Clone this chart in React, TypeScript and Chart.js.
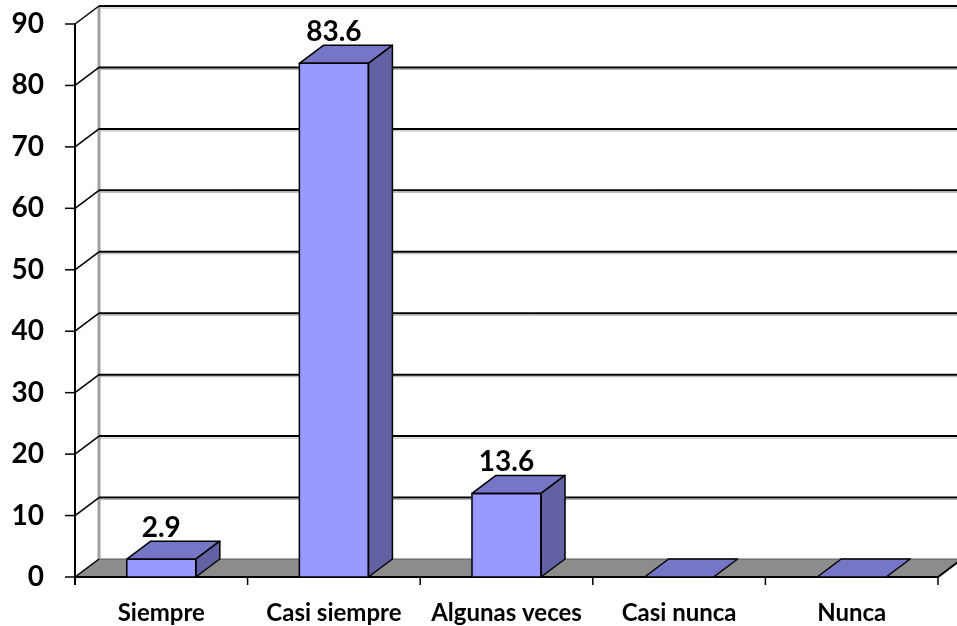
import React, { useEffect, useRef } from "react";
import { Chart, registerables } from "chart.js";

Chart.register(...registerables);

const categories = ["Siempre", "Casi siempre", "Algunas veces", "Casi nunca", "Nunca"];
const values = [2.9, 83.6, 13.6, 0, 0];
const yMin = 0;
const yMax = 90;
const yStep = 10;

const FONT = "Lato, 'Open Sans', sans-serif";
const DX = 24;
const DY = 18;
const COLORS = {
  front: "#9999FF",
  top: "#7676C6",
  side: "#6161A3",
  floor: "#8C8C8C",
  wall: "#A0A0A0",
};

const threeD = {
  id: "threeD",
  beforeDatasetsDraw(chart: any) {
    const { ctx, chartArea, scales } = chart;
    const { left, right } = chartArea;
    const x = scales.x;
    const y = scales.y;
    const y0 = y.getPixelForValue(yMin);
    const yTop = y.getPixelForValue(yMax);
    ctx.save();
    // floor
    ctx.beginPath();
    ctx.moveTo(left, y0);
    ctx.lineTo(right, y0);
    ctx.lineTo(right + DX, y0 - DY);
    ctx.lineTo(left + DX, y0 - DY);
    ctx.closePath();
    ctx.fillStyle = COLORS.floor;
    ctx.fill();
    ctx.strokeStyle = "#5a5a5a";
    ctx.lineWidth = 1;
    ctx.beginPath();
    ctx.moveTo(left + DX, y0 - DY);
    ctx.lineTo(right + DX, y0 - DY);
    ctx.stroke();

    // back wall left edge
    ctx.strokeStyle = COLORS.wall;
    ctx.lineWidth = 3;
    ctx.beginPath();
    ctx.moveTo(left + DX, yTop - DY);
    ctx.lineTo(left + DX, y0 - DY);
    ctx.stroke();

    // gridlines
    for (const t of y.ticks) {
      const v = t.value;
      const py = y.getPixelForValue(v);
      if (v > yMin) {
        ctx.strokeStyle = "#B0B0B0";
        ctx.lineWidth = 1;
        ctx.beginPath();
        ctx.moveTo(left + DX, py - DY + 2);
        ctx.lineTo(right + DX + 10, py - DY + 2);
        ctx.stroke();
        ctx.strokeStyle = "#000";
        ctx.lineWidth = 2;
        ctx.beginPath();
        ctx.moveTo(left + DX, py - DY);
        ctx.lineTo(right + DX + 10, py - DY);
        ctx.stroke();
      }
      // side diagonal
      ctx.strokeStyle = "#000";
      ctx.lineWidth = 1.5;
      ctx.beginPath();
      ctx.moveTo(left, py);
      ctx.lineTo(left + DX, py - DY);
      ctx.stroke();
      // tick mark
      ctx.beginPath();
      ctx.moveTo(left - 10, py);
      ctx.lineTo(left, py);
      ctx.stroke();
    }

    // front y axis
    ctx.strokeStyle = "#000";
    ctx.lineWidth = 2;
    ctx.beginPath();
    ctx.moveTo(left, yTop);
    ctx.lineTo(left, y0 + 8);
    ctx.stroke();

    // floor front edge and right end
    ctx.beginPath();
    ctx.moveTo(left, y0);
    ctx.lineTo(right, y0);
    ctx.lineTo(right + DX, y0 - DY);
    ctx.stroke();

    // category tick marks
    ctx.lineWidth = 1.5;
    for (let i = 0; i <= categories.length; i++) {
      const px = x.getPixelForValue(i - 0.5);
      ctx.beginPath();
      ctx.moveTo(px, y0);
      ctx.lineTo(px, y0 + 8);
      ctx.stroke();
    }
    ctx.restore();
  },
  afterDatasetsDraw(chart: any) {
    const { ctx } = chart;
    const meta = chart.getDatasetMeta(0);
    ctx.save();
    ctx.lineWidth = 1.5;
    ctx.strokeStyle = "#000";
    ctx.lineJoin = "round";
    meta.data.forEach((bar: any, i: number) => {
      const { x, y, base, width } = bar.getProps(["x", "y", "base", "width"], true);
      const l = x - width / 2;
      const r = x + width / 2;
      // top face
      ctx.beginPath();
      ctx.moveTo(l, y);
      ctx.lineTo(r, y);
      ctx.lineTo(r + DX, y - DY);
      ctx.lineTo(l + DX, y - DY);
      ctx.closePath();
      ctx.fillStyle = COLORS.top;
      ctx.fill();
      ctx.stroke();
      // side face
      if (base - y > 0.5) {
        ctx.beginPath();
        ctx.moveTo(r, y);
        ctx.lineTo(r + DX, y - DY);
        ctx.lineTo(r + DX, base - DY);
        ctx.lineTo(r, base);
        ctx.closePath();
        ctx.fillStyle = COLORS.side;
        ctx.fill();
        ctx.stroke();
        // front face outline
        ctx.strokeRect(l, y, width, base - y);
      }
      const v = values[i];
      if (v > 0) {
        ctx.fillStyle = "#000";
        ctx.font = `bold 28px ${FONT}`;
        ctx.textAlign = "center";
        ctx.textBaseline = "alphabetic";
        ctx.fillText(String(v), x, y - DY - 4);
      }
    });
    ctx.restore();
  },
};

export default function App() {
  const ref = useRef<HTMLCanvasElement | null>(null);
  useEffect(() => {
    if (!ref.current) return;
    const chart = new Chart(ref.current, {
      type: "bar",
      data: {
        labels: categories,
        datasets: [
          {
            data: values,
            backgroundColor: COLORS.front,
            borderColor: "#000",
            borderWidth: 0,
            barPercentage: 0.4,
            categoryPercentage: 1,
            clip: false,
          } as any,
        ],
      },
      options: {
        animation: false,
        responsive: false,
        layout: { padding: { top: 24, right: 19, left: 0, bottom: 0 } },
        plugins: { legend: { display: false }, tooltip: { enabled: false } },
        scales: {
          x: {
            type: "category",
            grid: { display: false, drawTicks: false },
            border: { display: false },
            ticks: {
              color: "#000",
              font: { family: FONT, size: 24, weight: "bold" },
              padding: 22,
              maxRotation: 0,
              autoSkip: false,
            },
            afterFit: (s: any) => {
              s.height = 49;
              s.paddingLeft = 0;
              s.paddingRight = 0;
            },
          },
          y: {
            min: yMin,
            max: yMax,
            grid: { display: false, drawTicks: false },
            border: { display: false },
            ticks: {
              stepSize: yStep,
              color: "#000",
              font: { family: FONT, size: 28, weight: "bold" },
              padding: 31,
            },
            afterFit: (s: any) => {
              s.width = 75;
              s.paddingTop = 0;
              s.paddingBottom = 0;
            },
          },
        },
      },
      plugins: [threeD],
    });
    return () => chart.destroy();
  }, []);
  return (
    <div style={{ position: "absolute", left: 0, top: 0, width: 957, height: 626, background: "#fff" }}>
      <canvas ref={ref} width={957} height={626} />
    </div>
  );
}
